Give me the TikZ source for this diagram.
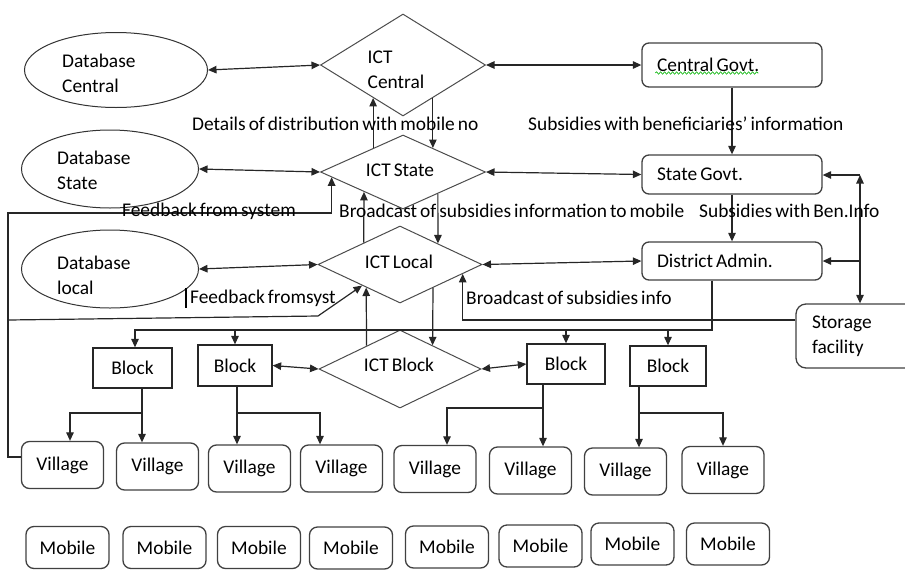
\documentclass[tikz,border=0pt]{standalone}
\usepackage{fontspec}
\setmainfont{Carlito}[WordSpace=0.7]
\usetikzlibrary{shapes.geometric,arrows.meta,calc,decorations.pathmorphing}
\newcommand\gapfix{\spaceskip=0pt\xspaceskip=0pt\relax}

\begin{document}
\begin{tikzpicture}[x=1pt,y=-1pt,
    every node/.style={inner sep=0pt,font=\fontsize{19.4}{25}\selectfont},
    line/.style={draw=black!85,line width=1.2pt},
    arr/.style={line,-{Triangle[length=8.5pt,width=7.5pt]}},
    biarr/.style={line,{Triangle[length=8.5pt,width=7.5pt]}-{Triangle[length=8.5pt,width=7.5pt]}},
    db/.style={ellipse,draw=black!80,line width=1pt},
    ict/.style={diamond,draw=black!70,line width=1pt},
    govbox/.style={draw=black!75,line width=1.3pt,rounded corners=7pt,minimum width=180pt,text width=150pt},
    blkbox/.style={draw=black!85,line width=1.3pt},
    vilbox/.style={draw=black!75,line width=1.3pt,rounded corners=8pt,minimum width=82pt,minimum height=47pt},
    mobbox/.style={vilbox,minimum width=83pt,minimum height=42pt},
    lbl/.style={anchor=west,align=left}]
    \useasboundingbox (0,0) rectangle (905,571);
    \clip (0,0) rectangle (905,571);

    \node[db,minimum width=183pt,minimum height=75pt] (dbc) at (116,70) {};
    \node[lbl] (dbctxt) at (62,73.5) {Database\\Central};
    \node[db,minimum width=177pt,minimum height=78pt] (dbs) at (110,169) {};
    \node[lbl] (dbstxt) at (57,170.5) {Database\\State};
    \node[db,minimum width=177pt,minimum height=78pt] (dbl) at (110,269) {};
    \node[lbl] (dbltxt) at (57,275) {Database\\local};

    \node[ict,minimum width=165pt,minimum height=102pt] (ictc) at (403,65) {};
    \node[align=left] (ictctxt) at (396,69.5) {ICT\\Central};
    \node[ict,minimum width=165pt,minimum height=74pt] (icts) at (403,172) {};
    \node (ictstxt) at (400,170) {ICT State};
    \node[ict,minimum width=164pt,minimum height=77pt] (ictl) at (400,264.5) {};
    \node (ictltxt) at (399,262) {ICT Local};
    \node[ict,minimum width=162pt,minimum height=78pt] (ictb) at (400,369) {};
    \node (ictbtxt) at (399,365) {ICT Block};

    \node[govbox,minimum height=44pt] (cgov) at (732,65) {\gapfix Central Govt.};
    \draw[green!70!black,line width=0.6pt,decorate,decoration={snake,amplitude=1.2pt,segment length=4pt}] ($(cgov.west)+(14,8)$) -- ++(103,0);
    \node[govbox,minimum height=39pt] (sgov) at (732,174.5) {\gapfix State Govt.};
    \node[govbox,minimum height=38pt] (dadm) at (732,261) {\gapfix District Admin.};
    \node[govbox,minimum width=128pt,text width=96pt,minimum height=64pt,rounded corners=10pt] (stor) at (860,336) {Storage\\facility};

    \node[blkbox,minimum width=79pt,minimum height=40pt] (blk1) at (132.5,368) {Block};
    \node[blkbox,minimum width=74pt,minimum height=41pt] (blk2) at (235,365.5) {Block};
    \node[blkbox,minimum width=78pt,minimum height=40pt] (blk3) at (566,364) {Block};
    \node[blkbox,minimum width=76pt,minimum height=40pt] (blk4) at (668,366) {Block};

    \foreach \n/\x/\y in {1/62.5/465,2/157.5/466.5,3/249.5/468.5,4/341.5/468.5,5/435/469,6/530.5/470.5,7/625.5/471.5,8/723/470}
        \node[vilbox] (v\n) at (\x,\y) {Village};
    \foreach \n/\x/\y in {1/67.5/547.5,2/164.5/547.5,3/259/547.5,4/351/548,5/447/547,6/540.5/546,7/632.5/544,8/728/544}
        \node[mobbox] (mob\n) at (\x,\y) {Mobile};

    \draw[biarr] (dbc.east) -- (ictc.west);
    \draw[biarr] (ictc.east) -- (cgov.west);
    \draw[biarr] (dbs.east) -- (icts.west);
    \draw[biarr] (icts.east) -- (sgov.west);
    \draw[biarr] (dbl.east) -- (ictl.west);
    \draw[biarr] (ictl.east) -- (dadm.west);
    \draw[biarr] (blk2.east) -- (ictb.west);
    \draw[biarr] (ictb.east) -- (blk3.west);
    \draw[arr] (cgov.south) -- (sgov.north);
    \draw[arr] (sgov.south) -- (dadm.north);

    \draw[arr] ($(icts.north)!0.36!(icts.west)$) -- ($(ictc.south)!0.36!(ictc.west)$);
    \draw[arr] ($(ictc.south)!0.36!(ictc.east)$) -- ($(icts.north)!0.36!(icts.east)$);
    \draw[arr] ($(ictl.north)!0.44!(ictl.west)$) -- ($(icts.south)!0.47!(icts.west)$);
    \draw[arr] ($(icts.south)!0.42!(icts.east)$) -- ($(ictl.north)!0.46!(ictl.east)$);
    \draw[arr] ($(ictb.north)!0.41!(ictb.west)$) -- ($(ictl.south)!0.41!(ictl.west)$);
    \draw[arr] ($(ictl.south)!0.4!(ictl.east)$) -- ($(ictb.north)!0.4!(ictb.east)$);

    \coordinate (fbtop) at (8,213);
    \coordinate (fbmid) at (8,320);
    \coordinate (fbbend) at (318,316);
    \draw[arr] ([yshift=8pt]v1.west) -| (fbtop) -| ($(icts.west)!0.14!(icts.south)$);
    \draw[arr] (fbmid) -- (fbbend) -- ($(ictl.west)!0.54!(ictl.south)$);
    \draw[arr] ([yshift=16pt]stor.west) -| ($(ictl.east)!0.24!(ictl.south)$);

    \coordinate (bus) at (712,330);
    \draw[arr] ([xshift=-20pt]dadm.south) -- (bus) -| ([xshift=2.5pt]blk1.north);
    \draw[arr] (bus -| blk2.north) -- (blk2.north);
    \draw[arr] (bus -| blk3.north) -- (blk3.north);
    \draw[arr] (bus -| blk4.north) -- (blk4.north);

    \coordinate (storup) at (860,175);
    \draw[biarr] (storup) -- (storup |- stor.north);
    \draw[arr] (storup) -- (storup -| sgov.east);
    \draw[arr] (storup |- dadm.east) -- (dadm.east);

    \coordinate (fork1) at (142,413);
    \draw[arr] (blk1.south -| fork1) -- (fork1 |- v2.north);
    \draw[arr] (fork1) -| ([xshift=7.5pt]v1.north);
    \coordinate (fork2) at (237,413);
    \draw[arr] (blk2.south -| fork2) -- (fork2 |- v3.north);
    \draw[arr] (fork2) -| ([xshift=-21.5pt]v4.north);
    \coordinate (fork3) at (543,408);
    \draw[arr] (blk3.south -| fork3) -- (fork3 |- v6.north);
    \draw[arr] (fork3) -| ([xshift=12pt]v5.north);
    \coordinate (fork4) at (639,413);
    \draw[arr] (blk4.south -| fork4) -- (fork4 |- v7.north);
    \draw[arr] (fork4) -| (v8.north);

    \node[lbl] (distlbl) at (192,124) {Details of distribution with mobile no};
    \node[lbl] (sublbl) at (528,124) {Subsidies with beneficiaries’ information};
    \node[lbl] (fblbl) at (122,211) {Feedback from system};
    \node[lbl] (bclbl) at (339,211) {Broadcast of subsidies information to mobile};
    \node[lbl] (benlbl) at (699,211) {Subsidies with Ben.Info};
    \node[lbl] (fb2lbl) at (190,298) {Feedback fromsyst};
    \node[lbl] (bc2lbl) at (466,298) {Broadcast of subsidies info};
    \draw[line width=2pt] ($(fb2lbl.west)+(-4,-10)$) -- ++(0,20);
\end{tikzpicture}
\end{document}
